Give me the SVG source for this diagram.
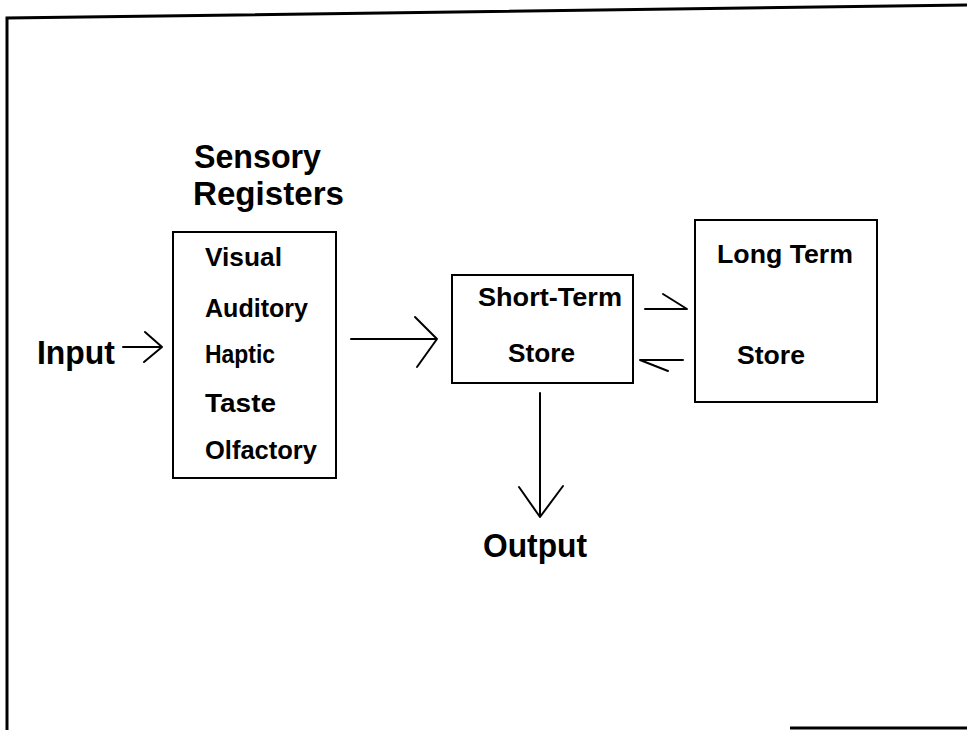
<svg xmlns="http://www.w3.org/2000/svg" width="967" height="730" viewBox="0 0 967 730">
<style>
text{font-family:"Liberation Sans",Arial,Helvetica,sans-serif;font-weight:bold;fill:#000}
.t{font-size:33px}
.s{font-size:25px}
.box{fill:none;stroke:#000;stroke-width:2}
.frame{fill:none;stroke:#000;stroke-width:3}
.ar{fill:none;stroke:#000;stroke-width:2;stroke-linecap:round;stroke-linejoin:round}
</style>
<rect width="967" height="730" fill="#fff"/>
<g id="frame">
<path class="frame" d="M7,730 L7,18 L967,5"/>
<path class="frame" d="M790,728 L967,728"/>
</g>
<g id="input"><text class="t" x="37" y="364" textLength="78" lengthAdjust="spacingAndGlyphs">Input</text></g>
<g id="sensory-registers">
<text class="t" x="194" y="168" textLength="127" lengthAdjust="spacingAndGlyphs">Sensory</text>
<text class="t" x="193" y="205" textLength="151" lengthAdjust="spacingAndGlyphs">Registers</text>
<rect class="box" x="173" y="232" width="163" height="246"/>
<text class="s" x="205" y="266" textLength="77" lengthAdjust="spacingAndGlyphs">Visual</text>
<text class="s" x="205" y="317" textLength="103" lengthAdjust="spacingAndGlyphs">Auditory</text>
<text class="s" x="205" y="363" textLength="70" lengthAdjust="spacingAndGlyphs">Haptic</text>
<text class="s" x="205" y="412" textLength="71" lengthAdjust="spacingAndGlyphs">Taste</text>
<text class="s" x="205" y="459" textLength="112" lengthAdjust="spacingAndGlyphs">Olfactory</text>
</g>
<g id="short-term-store">
<rect class="box" x="452" y="275" width="181" height="108"/>
<text class="s" x="478" y="306" textLength="144" lengthAdjust="spacingAndGlyphs">Short-Term</text>
<text class="s" x="508" y="362" textLength="67" lengthAdjust="spacingAndGlyphs">Store</text>
</g>
<g id="long-term-store">
<rect class="box" x="695" y="220" width="182" height="182"/>
<text class="s" x="717" y="263" textLength="136" lengthAdjust="spacingAndGlyphs">Long Term</text>
<text class="s" x="737" y="364" textLength="68" lengthAdjust="spacingAndGlyphs">Store</text>
</g>
<g id="output"><text class="t" x="483" y="557" textLength="104" lengthAdjust="spacingAndGlyphs">Output</text></g>
<g id="connectors">
<path class="ar" d="M123,347 L162,347 M145,332 L162,347 L144,362"/>
<path class="ar" d="M351,339 L437,339 M415,317 L437,339 L417,367"/>
<path class="ar" d="M645,309 L687,309 L663,294"/>
<path class="ar" d="M683,360 L640,360 L668,371"/>
<path class="ar" d="M540,393 L540,517 M519,487 L540,517 L563,486"/>
</g>
</svg>
